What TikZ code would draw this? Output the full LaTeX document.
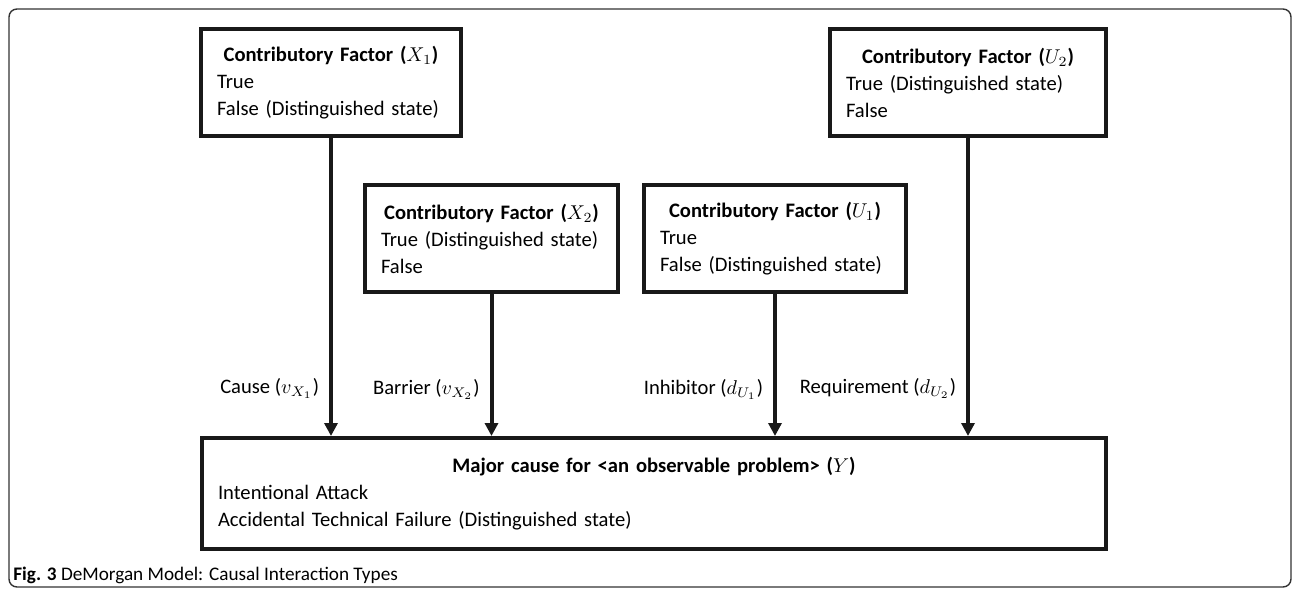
\documentclass[tikz,border=0pt]{standalone}
\usepackage{fontspec}
\setmainfont{Carlito}
\usetikzlibrary{arrows.meta}
\begin{document}
\begin{tikzpicture}[x=0.5pt,y=-0.5pt,
  box/.style={draw=black!90, line width=2pt, rectangle, anchor=north west,
    inner xsep=8pt, inner ysep=0pt, font=\fontsize{10.3pt}{13.5pt}\selectfont},
  arr/.style={draw=black!90, line width=2pt, -{Triangle[width=6.5pt,length=6.5pt]}},
  lbl/.style={anchor=east, inner sep=0pt, font=\fontsize{10.3pt}{13.5pt}\selectfont}]
\useasboundingbox (0,0) rectangle (1292,590);
\draw[black!80, line width=0.7pt, rounded corners=4pt] (9,9) rectangle (1291,587);

\node[box, minimum width=130pt, minimum height=53.5pt, text width=114pt] (x1) at (199,27)
  {\centering\textbf{Contributory Factor ($X_1$)}\par\raggedright True\par False (Distinguished state)};
\node[box, minimum width=138pt, minimum height=53.5pt, text width=122pt] (u2) at (828,27)
  {\centering\textbf{Contributory Factor ($U_2$)}\par\raggedright True (Distinguished state)\par False};
\node[box, minimum width=126.5pt, minimum height=53.5pt, text width=110.5pt] (x2) at (363,183)
  {\centering\textbf{Contributory Factor ($X_2$)}\par\raggedright True (Distinguished state)\par False};
\node[box, minimum width=131pt, minimum height=53.5pt, text width=115pt] (u1) at (642,183)
  {\centering\textbf{Contributory Factor ($U_1$)}\par\raggedright True\par False (Distinguished state)};
\node[box, minimum width=452pt, minimum height=55.5pt, text width=436pt] (y) at (200,436)
  {\centering\textbf{Major cause for <an observable problem> ($Y$)}\par\raggedright Intentional Attack\par Accidental Technical Failure (Distinguished state)};

\draw[arr] (x1.south) -- (x1.south |- y.north) node[lbl, pos=0.84, xshift=-5pt] {Cause ($v_{X_1}$)};
\draw[arr] (x2.south) -- (x2.south |- y.north) node[lbl, pos=0.67, xshift=-5pt] {Barrier ($v_{X_2}$)};
\draw[arr] (u1.south) -- (u1.south |- y.north) node[lbl, pos=0.67, xshift=-5pt] {Inhibitor ($d_{U_1}$)};
\draw[arr] (u2.south) -- (u2.south |- y.north) node[lbl, pos=0.84, xshift=-5pt] {Requirement ($d_{U_2}$)};

\node[anchor=west, inner sep=0pt, font=\fontsize{9.6pt}{12pt}\selectfont] (cap) at (13,575)
  {\textbf{Fig. 3} DeMorgan Model: Causal Interaction Types};
\end{tikzpicture}
\end{document}
